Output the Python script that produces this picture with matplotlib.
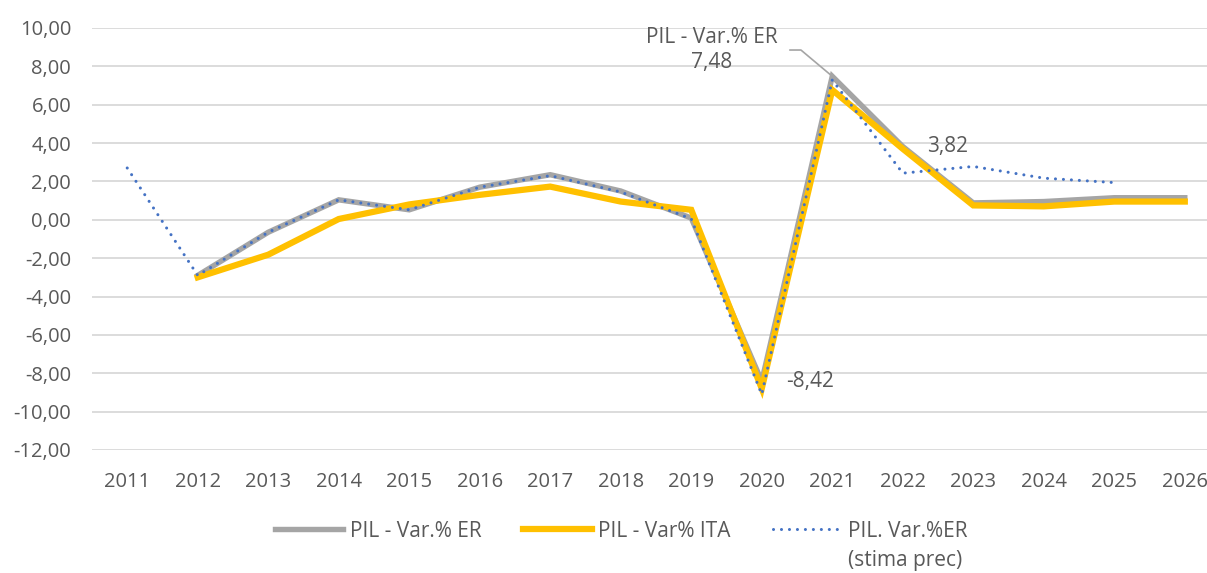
import matplotlib.pyplot as plt
import numpy as np

plt.rcParams['font.family'] = ['Open Sans', 'DejaVu Sans']

years = list(range(2011, 2027))
pil_er = [np.nan, -2.9, -0.65, 1.04, 0.52, 1.7, 2.35, 1.5, 0.09, -8.42, 7.48, 3.82, 0.88, 0.95, 1.15, 1.15]
pil_ita = [np.nan, -3.0, -1.82, 0.04, 0.8, 1.3, 1.73, 0.95, 0.52, -8.8, 6.77, 3.7, 0.75, 0.7, 0.95, 0.95]
pil_er_prec = [2.7, -2.9, -0.65, 1.04, 0.52, 1.7, 2.3, 1.45, 0.05, -9.1, 7.29, 2.43, 2.78, 2.17, 1.94, np.nan]

txt = '#595959'
fs = 15
fig = plt.figure(figsize=(12.07, 5.73), dpi=100)
ax = fig.add_axes([0.0762, 0.2147, 0.9346, 0.7365])

x = np.arange(len(years))
l1, = ax.plot(x, pil_er, color='#a5a5a5', lw=3.9, solid_joinstyle='miter', label='PIL - Var.% ER', zorder=3)
l2, = ax.plot(x, pil_ita, color='#ffc000', lw=4.5, solid_joinstyle='miter', label='PIL - Var% ITA', zorder=4)
l3, = ax.plot(x, pil_er_prec, color='#4472c4', lw=2.2, ls=(0, (0.01, 2.6)), dash_capstyle='round',
              label='PIL. Var.%ER', zorder=5)

ax.set_xlim(-0.5, len(years) - 0.5)
ax.set_ylim(-12, 10)
yt = np.arange(-12, 11, 2)
ax.set_yticks(yt)
ax.set_yticklabels([f'{v:.2f}'.replace('.', ',') for v in yt])
ax.set_xticks(x)
ax.set_xticklabels([str(y) for y in years])
ax.grid(axis='y', color='#d9d9d9', lw=1.3)
ax.set_axisbelow(True)
for s in ax.spines.values():
    s.set_visible(False)
ax.tick_params(length=0, labelsize=fs - 0.5, colors=txt)
ax.tick_params(axis='x', pad=16)
ax.tick_params(axis='y', pad=15)

i21 = years.index(2021)
ax.annotate('PIL - Var.% ER\n7,48', xy=(i21, pil_er[i21]), xytext=(i21 - 0.78, 8.85),
            ha='right', va='center', fontsize=fs, color=txt, multialignment='center',
            linespacing=1.25,
            arrowprops=dict(arrowstyle='-', color='#a5a5a5', lw=1.2,
                            connectionstyle='angle,angleA=0,angleB=-40,rad=0', shrinkA=7, shrinkB=0))
i22 = years.index(2022)
ax.text(i22 + 0.35, pil_er[i22], '3,82', fontsize=fs, color=txt, ha='left', va='center')
i20 = years.index(2020)
ax.text(i20 + 0.35, pil_er[i20], '-8,42', fontsize=fs, color=txt, ha='left', va='center')

leg = fig.legend(handles=[l1, l2, l3], loc='center left', bbox_to_anchor=(0.228, 0.073), ncol=3,
                 frameon=False, fontsize=fs, handlelength=3.27, columnspacing=2.0,
                 handletextpad=0.33, borderpad=0, borderaxespad=0)
for t in leg.get_texts():
    t.set_color(txt)

# second line of the third legend label, under its first line
fig.canvas.draw()
bb = leg.get_texts()[2].get_window_extent()
fig.text(bb.x0 / fig.bbox.width, (bb.y0 - 29 + bb.height / 2) / fig.bbox.height, '(stima prec)',
         fontsize=fs, color=txt, ha='left', va='center')

fig.savefig('out.png', dpi=100)
